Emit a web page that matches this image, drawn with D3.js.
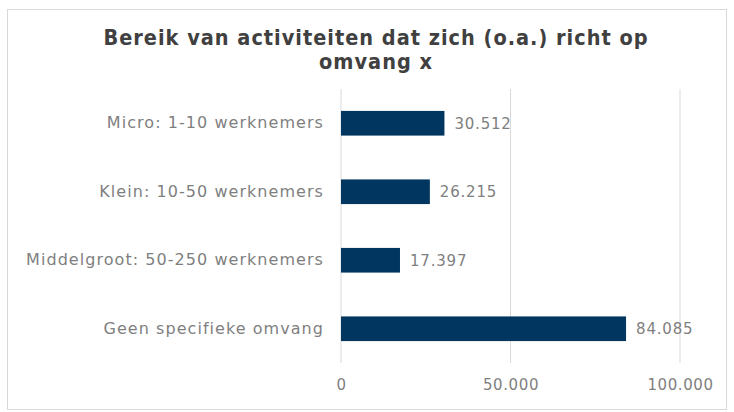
<!DOCTYPE html>
<html><head><meta charset="utf-8">
<script src="https://cdn.jsdelivr.net/npm/d3@7"></script>
<style>body{margin:0;background:#fff;}svg{display:block;}</style>
</head><body>
<svg id="c" width="734" height="412"></svg>
<script>
const categories = ["Micro: 1-10 werknemers","Klein: 10-50 werknemers","Middelgroot: 50-250 werknemers","Geen specifieke omvang"];
const values = [30512, 26215, 17397, 84085];
const tickValues = [0, 50000, 100000];
const titleLines = ["Bereik van activiteiten dat zich (o.a.) richt op","omvang x"];

const svg = d3.select("#c");
const fmt = v => d3.format(",")(v).replace(/,/g, ".");

svg.append("rect").attr("x",7.5).attr("y",9.5).attr("width",719).attr("height",400)
  .attr("fill","#fff").attr("stroke","#d9d9d9");

svg.append("g").selectAll("text").data(titleLines).join("text")
  .attr("x",376).attr("y",(d,i)=>45+i*24).attr("text-anchor","middle")
  .attr("font-family","DejaVu Sans Condensed, DejaVu Sans").attr("font-weight","bold")
  .attr("font-size",21.5).attr("letter-spacing","1px").attr("fill","#404040").text(d=>d);

const x = d3.scaleLinear().domain([0,100000]).range([341,680]);
const y = d3.scaleBand().domain(categories).range([89,363]).paddingInner(0.64).paddingOuter(0.32);

svg.append("g").selectAll("line").data(tickValues).join("line")
  .attr("x1",d=>x(d)).attr("x2",d=>x(d)).attr("y1",89).attr("y2",363)
  .attr("stroke","#d9d9d9").attr("stroke-width",1);

const xa = svg.append("g").attr("transform","translate(0,363)")
  .call(d3.axisBottom(x).tickValues(tickValues).tickFormat(fmt).tickSize(0).tickPadding(16));
xa.select(".domain").remove();
xa.selectAll("text").attr("font-family","DejaVu Sans").attr("font-size",15)
  .attr("letter-spacing","0.6px").attr("fill","#7f7f7f");

const ya = svg.append("g").attr("transform","translate(341,0)")
  .call(d3.axisLeft(y).tickSize(0).tickPadding(17));
ya.select(".domain").remove();
ya.selectAll("text").attr("font-family","DejaVu Sans").attr("font-size",16)
  .attr("letter-spacing","1.05px").attr("fill","#7f7f7f");

svg.append("g").selectAll("rect").data(values).join("rect")
  .attr("x",x(0)).attr("y",(d,i)=>y(categories[i])).attr("width",d=>x(d)-x(0))
  .attr("height",y.bandwidth()).attr("fill","#003660");

svg.append("g").selectAll("text").data(values).join("text")
  .attr("x",d=>x(d)+10).attr("y",(d,i)=>y(categories[i])+y.bandwidth()/2).attr("dy","0.35em")
  .attr("font-family","DejaVu Sans").attr("font-size",15).attr("letter-spacing","0.8px")
  .attr("fill","#7f7f7f").text(fmt);
</script>
</body></html>
